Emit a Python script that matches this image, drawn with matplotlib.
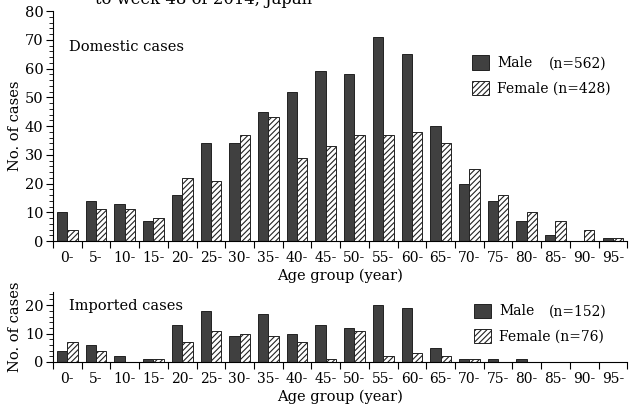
import numpy as np
import matplotlib
matplotlib.use("Agg")
import matplotlib.pyplot as plt
from matplotlib.ticker import MultipleLocator, FixedLocator

plt.rcParams['font.family'] = ['DejaVu Serif']
plt.rcParams['hatch.linewidth'] = 0.8

# Age groups (5-year bins)
groups = ["0-", "5-", "10-", "15-", "20-", "25-", "30-", "35-", "40-", "45-",
          "50-", "55-", "60-", "65-", "70-", "75-", "80-", "85-", "90-", "95-"]

# Domestic cases
dom_male = [10, 14, 13, 7, 16, 34, 34, 45, 52, 59, 58, 71, 65, 40, 20, 14, 7, 2, 0, 1]
dom_female = [4, 11, 11, 8, 22, 21, 37, 43, 29, 33, 37, 37, 38, 34, 25, 16, 10, 7, 4, 1]

# Imported cases
imp_male = [4, 6, 2, 1, 13, 18, 9, 17, 10, 13, 12, 20, 19, 5, 1, 1, 1, 0, 0, 0]
imp_female = [7, 4, 0, 1, 7, 11, 10, 9, 7, 1, 11, 2, 3, 2, 1, 0, 0, 0, 0, 0]

male_color = "#404040"
x = np.arange(len(groups))
w = 0.36
leg_fs = 10


def draw_panel(ax, male, female, ymax, title, title_y, n_female, leg_pos):
    ax.bar(x - w / 2, male, w, color=male_color, edgecolor="#222222",
           linewidth=0.7, label="Male")
    ax.bar(x + w / 2, female, w, color="white", edgecolor="#222222",
           linewidth=0.7, hatch="//////", label=f"Female (n={n_female})")
    ax.set_xlim(-0.5, len(groups) - 0.5)
    ax.set_ylim(0, ymax)
    for s in ["top", "right"]:
        ax.spines[s].set_visible(False)
    # group boundaries as ticks, labels at centers
    ax.xaxis.set_major_locator(FixedLocator(np.arange(len(groups) + 1) - 0.5))
    ax.xaxis.set_minor_locator(FixedLocator(x))
    ax.set_xticklabels([""] * (len(groups) + 1))
    ax.set_xticklabels(groups, minor=True)
    ax.tick_params(axis="x", which="major", direction="out", length=5, width=0.8)
    ax.tick_params(axis="x", which="minor", length=0, pad=7, labelsize=10)
    ax.yaxis.set_major_locator(MultipleLocator(10))
    ax.yaxis.set_minor_locator(MultipleLocator(2))
    ax.tick_params(axis="y", which="major", length=5, width=0.8, labelsize=10.5, pad=2)
    ax.tick_params(axis="y", which="minor", length=3, width=0.6)
    ax.set_xlabel("Age group (year)", fontsize=10.5, labelpad=3)
    ax.set_ylabel("No. of cases", fontsize=10.5, labelpad=2)
    ax.text(0.027, title_y, title, transform=ax.transAxes,
            fontsize=10.5, va="center")
    leg = ax.legend(loc="center left", bbox_to_anchor=leg_pos,
                    frameon=False, fontsize=leg_fs, handlelength=1.2, handleheight=1.2,
                    handletextpad=0.6, labelspacing=0.75, borderpad=0,
                    borderaxespad=0)
    return leg


fig = plt.figure(figsize=(6.31, 4.12), dpi=100)
ax1 = fig.add_axes([0.084, 0.415, 0.91, 0.558])
ax2 = fig.add_axes([0.084, 0.1214, 0.91, 0.1696])

leg1 = draw_panel(ax1, dom_male, dom_female, 80, "Domestic cases", 0.845, 428, (0.730, 0.72))
leg2 = draw_panel(ax2, imp_male, imp_female, 24.6, "Imported cases", 0.80, 76, (0.733, 0.55))

fig.text(0.15, 1.002, "to week 48 of 2014, Japan", fontsize=11.8, va="center")

# male counts, aligned with the "Male" legend entry
fig.canvas.draw()
for leg, n_male in [(leg1, 562), (leg2, 152)]:
    bb = leg.get_texts()[0].get_window_extent()
    yc = (bb.y0 + bb.y1) / 2 / fig.bbox.height
    fig.text(607 / 631, yc, f"(n={n_male})", ha="right", va="center", fontsize=leg_fs)

fig.savefig("out.png", dpi=100)
